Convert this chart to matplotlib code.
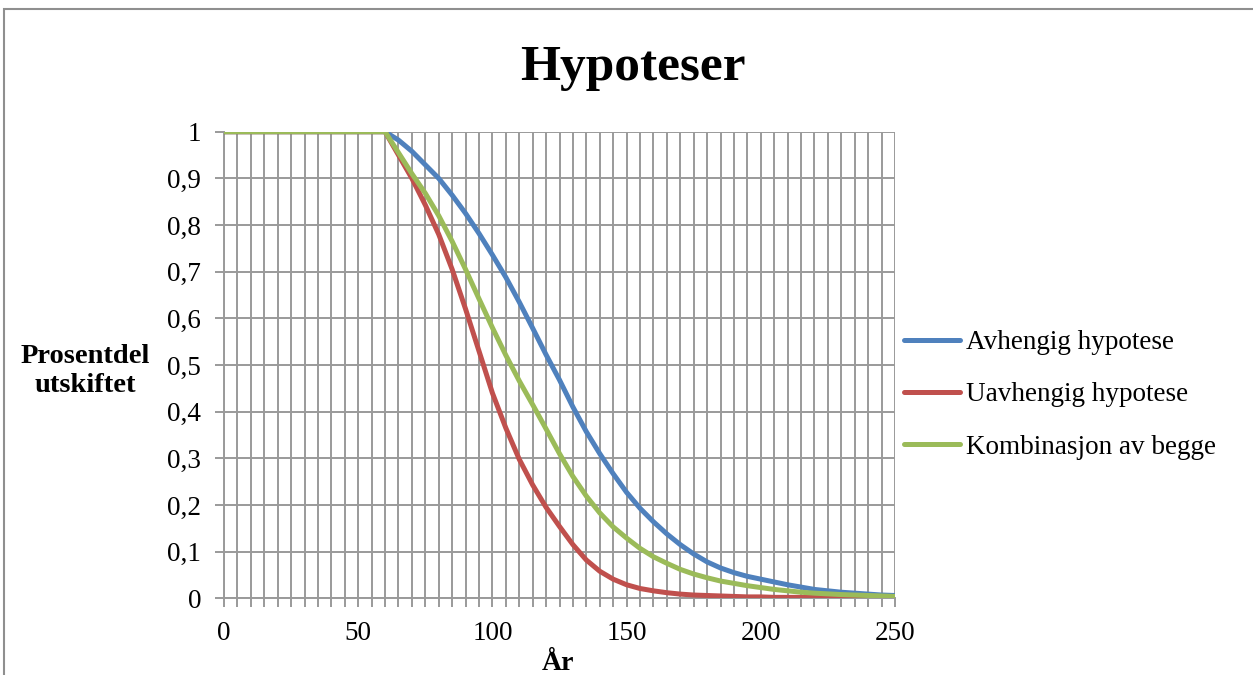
import matplotlib
matplotlib.use("Agg")
import matplotlib.pyplot as plt
from matplotlib.patches import Rectangle

# years 0..250 in steps of 5
years = list(range(0, 251, 5))

avhengig = [1.0] * 13 + [
    0.982, 0.958, 0.929, 0.900, 0.864, 0.825, 0.782, 0.736, 0.688, 0.635,
    0.579, 0.522, 0.468, 0.410, 0.357, 0.310, 0.267, 0.227, 0.193, 0.164,
    0.138, 0.115, 0.095, 0.078, 0.065, 0.055, 0.047, 0.041, 0.035, 0.029,
    0.024, 0.019, 0.016, 0.013, 0.011, 0.009, 0.007, 0.006,
]
uavhengig = [1.0] * 13 + [
    0.950, 0.900, 0.843, 0.780, 0.705, 0.620, 0.530, 0.440, 0.365, 0.298,
    0.243, 0.195, 0.154, 0.115, 0.082, 0.058, 0.041, 0.029, 0.021, 0.016,
    0.012, 0.009, 0.007, 0.006, 0.005, 0.004, 0.003, 0.003, 0.002, 0.002,
    0.002, 0.002, 0.001, 0.001, 0.001, 0.001, 0.001, 0.001,
]
kombinasjon = [1.0] * 13 + [
    0.955, 0.910, 0.868, 0.820, 0.765, 0.705, 0.642, 0.580, 0.521, 0.466,
    0.415, 0.363, 0.310, 0.261, 0.219, 0.183, 0.153, 0.129, 0.107, 0.089,
    0.075, 0.062, 0.052, 0.044, 0.037, 0.032, 0.027, 0.023, 0.019, 0.016,
    0.013, 0.011, 0.0095, 0.008, 0.007, 0.006, 0.005, 0.004,
]

series_names = ["Avhengig hypotese", "Uavhengig hypotese", "Kombinasjon av begge"]
series_colors = ["#4F81BD", "#C0504D", "#9BBB59"]

x_major = [0, 50, 100, 150, 200, 250]
y_ticks = [0, 0.1, 0.2, 0.3, 0.4, 0.5, 0.6, 0.7, 0.8, 0.9, 1.0]
y_labels = ["0", "0,1", "0,2", "0,3", "0,4", "0,5", "0,6", "0,7", "0,8", "0,9", "1"]

plt.rcParams['font.family'] = ['Liberation Serif', 'DejaVu Serif']

fig = plt.figure(figsize=(12.53, 6.75), dpi=100)
W, H = 1253, 675
ax = fig.add_axes([224 / W, 1 - 598.3 / H, (895 - 224) / W, (598.3 - 131.7) / H])

grid_col = "#9a9a9a"
for name, vals, col in zip(series_names, [avhengig, uavhengig, kombinasjon], series_colors):
    ax.plot(years, vals, color=col, lw=3.6, label=name, solid_capstyle='round',
            solid_joinstyle='round', zorder=3)

ax.set_xlim(0, 250)
ax.set_ylim(0, 1)
ax.set_xticks(x_major)
ax.set_xticklabels([str(v) for v in x_major], fontsize=19.5)
ax.set_xticks(range(0, 251, 5), minor=True)
ax.set_yticks(y_ticks)
ax.set_yticklabels(y_labels, fontsize=19.5)

ax.grid(True, which='both', color=grid_col, lw=1.4)
ax.set_axisbelow(True)
for s in ['top', 'right']:
    ax.spines[s].set_visible(False)
for s in ['left', 'bottom']:
    ax.spines[s].set_color(grid_col)
    ax.spines[s].set_linewidth(1.4)
ax.tick_params(axis='both', which='both', direction='out', color=grid_col,
               width=1.4, length=6.5, pad=10)
ax.tick_params(axis='y', which='minor', left=False)

fig.text(633 / W, 1 - 68 / H, "Hypoteser", ha='center', va='center',
         fontsize=37, fontweight='bold')
fig.text(558 / W, 1 - 664 / H, "År", ha='center', va='center', fontsize=20, fontweight='bold')
fig.text(85 / W, 1 - 371 / H, "Prosentdel\nutskiftet", ha='center', va='center',
         fontsize=20.5, fontweight='bold', linespacing=1.2)

handles, labels = ax.get_legend_handles_labels()
fig.legend(handles, labels, loc='center left', bbox_to_anchor=(904 / W, 1 - 395 / H),
           frameon=False, fontsize=19.5, handlelength=2.05, handletextpad=0.25,
           labelspacing=1.0, borderaxespad=0, borderpad=0)

fig.patches.append(Rectangle((4 / W, -0.1), 1.2, 1.1 - 9 / H, transform=fig.transFigure,
                             fill=False, edgecolor='#8f8f8f', lw=1.5))

fig.savefig("out.png", dpi=100)
